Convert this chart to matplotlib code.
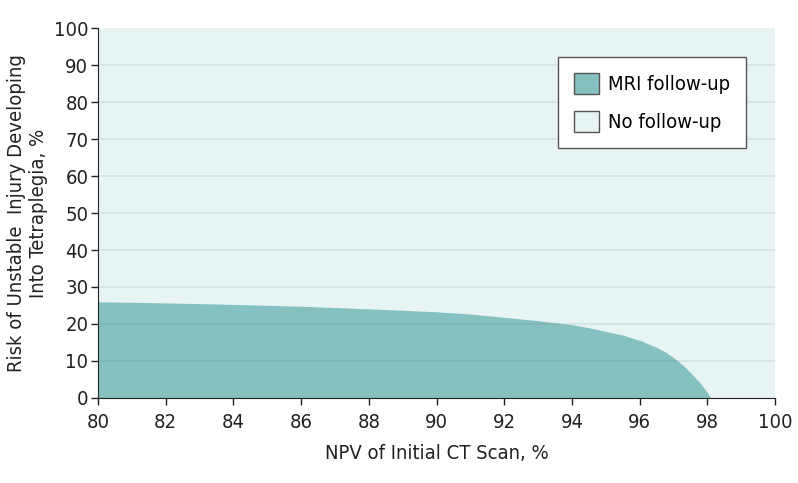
import matplotlib.pyplot as plt
from matplotlib.patches import Patch

# NPV of initial CT scan (%) vs risk threshold (%) - boundary of MRI follow-up region
npv = [80, 82, 84, 86, 88, 90, 91, 92, 93, 94, 94.5, 95, 95.5, 96, 96.5, 96.8, 97, 97.3, 97.5, 97.8, 98, 98.1]
risk = [26, 25.7, 25.3, 24.8, 24.1, 23.3, 22.7, 21.8, 20.9, 19.8, 19.0, 18.0, 17.0, 15.6, 13.7, 12.2, 10.9, 8.7, 6.9, 3.9, 1.5, 0]

xticks = list(range(80, 101, 2))
yticks = list(range(0, 101, 10))

teal = "#84c1c0"
bg = "#e8f3f4"

plt.rcParams["font.family"] = "DejaVu Sans"
plt.rcParams["font.stretch"] = "condensed"

fig = plt.figure(figsize=(7.98, 4.83), dpi=100)
ax = fig.add_axes([0.1228, 0.176, 0.8484, 0.766])
ax.set_facecolor(bg)

ax.fill_between(npv, risk, 0, color=teal, linewidth=0, zorder=1)
for yv in yticks[1:-1]:
    ax.axhline(yv, color="#5a6b70", alpha=0.13, linewidth=1.3, zorder=2)

ax.set_xlim(80, 100)
ax.set_ylim(0, 100)
ax.set_xticks(xticks)
ax.set_yticks(yticks)
ax.tick_params(direction="out", length=5, width=1, colors="#222222", labelsize=14.5)
ax.tick_params(axis="x", pad=5.5)
ax.tick_params(axis="y", pad=2)
for s in ["top", "right"]:
    ax.spines[s].set_visible(False)
for s in ["left", "bottom"]:
    ax.spines[s].set_color("#222222")

ax.set_xlabel("NPV of Initial CT Scan, %", fontsize=14.5, color="#222222", labelpad=9)
ax.set_ylabel("Risk of Unstable  Injury Developing\nInto Tetraplegia, %", fontsize=14.5,
              color="#222222", labelpad=4)

handles = [Patch(facecolor=teal, edgecolor="#555555", linewidth=1, label="MRI follow-up"),
           Patch(facecolor=bg, edgecolor="#555555", linewidth=1, label="No follow-up")]
leg = ax.legend(handles=handles, loc="upper right", bbox_to_anchor=(0.957, 0.922),
                borderaxespad=0, fontsize=14.5, frameon=True, fancybox=False,
                handlelength=1.2, handleheight=1.2, borderpad=0.8, labelspacing=0.85,
                handletextpad=0.45)
leg.get_frame().set_edgecolor("#555555")
leg.get_frame().set_facecolor("white")
leg.get_frame().set_alpha(1)

plt.savefig("out.png", dpi=100)
